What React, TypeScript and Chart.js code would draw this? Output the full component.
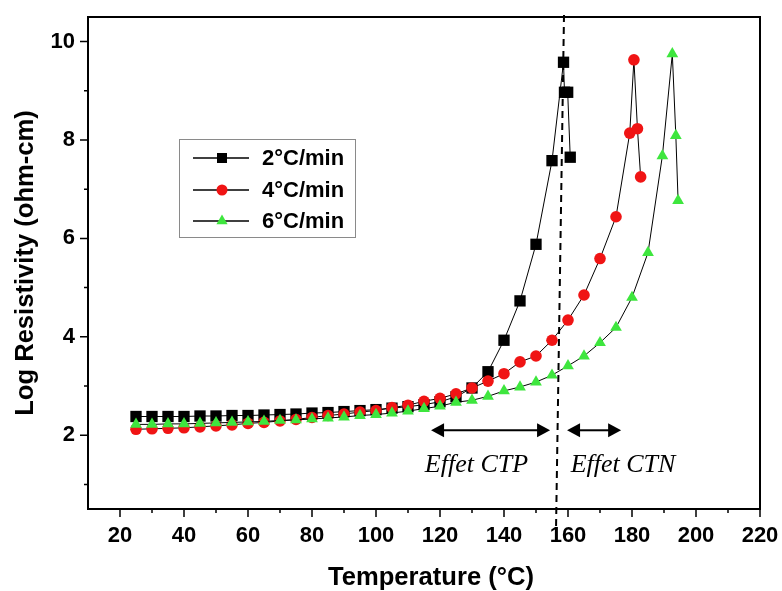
import React, { useEffect, useRef } from 'react';
import { Chart, registerables } from 'chart.js';

Chart.register(...registerables);

// ---- data ----
const seriesLabels = ['2°C/min', '4°C/min', '6°C/min'];

const temps2 = [25, 30, 35, 40, 45, 50, 55, 60, 65, 70, 75, 80, 85, 90, 95, 100, 105, 110, 115, 120, 125, 130, 135, 140, 145, 150, 155, 158.6, 158.9, 159.9, 160.7];
const resist2 = [2.38, 2.38, 2.38, 2.38, 2.39, 2.39, 2.40, 2.40, 2.41, 2.42, 2.43, 2.45, 2.46, 2.48, 2.50, 2.52, 2.55, 2.58, 2.62, 2.68, 2.78, 2.96, 3.29, 3.93, 4.73, 5.88, 7.58, 9.58, 8.97, 8.97, 7.65];

const temps4 = [25, 30, 35, 40, 45, 50, 55, 60, 65, 70, 75, 80, 85, 90, 95, 100, 105, 110, 115, 120, 125, 130, 135, 140, 145, 150, 155, 160, 165, 170, 175, 179.3, 180.6, 181.7, 182.7];
const resist4 = [2.12, 2.13, 2.14, 2.15, 2.17, 2.19, 2.21, 2.24, 2.26, 2.29, 2.32, 2.36, 2.40, 2.43, 2.47, 2.50, 2.56, 2.61, 2.69, 2.75, 2.84, 2.96, 3.10, 3.25, 3.49, 3.61, 3.93, 4.34, 4.85, 5.59, 6.44, 8.14, 9.63, 8.23, 7.25];

const temps6 = [25, 30, 35, 40, 45, 50, 55, 60, 65, 70, 75, 80, 85, 90, 95, 100, 105, 110, 115, 120, 125, 130, 135, 140, 145, 150, 155, 160, 165, 170, 175, 180, 185, 189.5, 192.6, 193.7, 194.4];
const resist6 = [2.22, 2.22, 2.23, 2.23, 2.24, 2.25, 2.26, 2.27, 2.28, 2.30, 2.31, 2.33, 2.35, 2.37, 2.40, 2.42, 2.45, 2.49, 2.54, 2.59, 2.67, 2.71, 2.79, 2.90, 2.98, 3.08, 3.22, 3.41, 3.61, 3.88, 4.19, 4.80, 5.71, 7.68, 9.75, 8.09, 6.77];

const xTickValues = [20, 30, 40, 50, 60, 70, 80, 90, 100, 110, 120, 130, 140, 150, 160, 170, 180, 190, 200, 210, 220];
const xLabelValues = [20, 40, 60, 80, 100, 120, 140, 160, 180, 200, 220];
const yTickValues = [1, 2, 3, 4, 5, 6, 7, 8, 9, 10];
const yLabelValues = [2, 4, 6, 8, 10];

const xTitle = 'Temperature (°C)';
const yTitle = 'Log Resistivity (ohm-cm)';

// annotations (data units)
const annotationTexts = ['Effet CTP', 'Effet CTN'];
const ctpRange = [117.2, 154.4];
const ctnRange = [159.7, 176.6];
const arrowLevel = 2.1;
const textLevel = 1.39;
const textCenters = [131.4, 177.2];
const dashTop = { x: 158.75, y: 10.54 };
const dashBottom = { x: 156.25, y: 0.07 };

const SANS = '"Liberation Sans", Arial, Helvetica, sans-serif';
const SERIF = '"Liberation Serif", "Times New Roman", serif';

const markerColors = ['#000000', '#f01414', '#3ee63e'];

function drawMarker(ctx: CanvasRenderingContext2D, kind: number, cx: number, cy: number) {
  ctx.fillStyle = markerColors[kind];
  ctx.beginPath();
  if (kind === 0) {
    ctx.rect(cx - 5, cy - 5, 10, 10);
  } else if (kind === 1) {
    ctx.arc(cx, cy, 5.5, 0, Math.PI * 2);
  } else {
    ctx.moveTo(cx, cy - 6.5);
    ctx.lineTo(cx + 5.6, cy + 3.3);
    ctx.lineTo(cx - 5.6, cy + 3.3);
    ctx.closePath();
  }
  ctx.fill();
}

function drawDoubleArrow(ctx: CanvasRenderingContext2D, x1: number, x2: number, y: number) {
  const head = 13;
  const half = 7;
  ctx.lineWidth = 2;
  ctx.beginPath();
  ctx.moveTo(x1 + head - 1, y);
  ctx.lineTo(x2 - head + 1, y);
  ctx.stroke();
  ctx.beginPath();
  ctx.moveTo(x1, y);
  ctx.lineTo(x1 + head, y - half);
  ctx.lineTo(x1 + head, y + half);
  ctx.closePath();
  ctx.fill();
  ctx.beginPath();
  ctx.moveTo(x2, y);
  ctx.lineTo(x2 - head, y - half);
  ctx.lineTo(x2 - head, y + half);
  ctx.closePath();
  ctx.fill();
}

const overlayPlugin = {
  id: 'overlay',
  afterDraw(chart: any) {
    const { ctx, chartArea: a } = chart;
    const x = chart.scales.x;
    const y = chart.scales.y;
    ctx.save();
    ctx.strokeStyle = '#000';
    ctx.fillStyle = '#000';

    // frame
    ctx.lineWidth = 2;
    ctx.strokeRect(a.left, a.top, a.right - a.left, a.bottom - a.top);

    // tick marks
    ctx.lineWidth = 1.5;
    ctx.beginPath();
    for (const v of xTickValues) {
      const px = x.getPixelForValue(v);
      const len = xLabelValues.includes(v) ? 8 : 4;
      ctx.moveTo(px, a.bottom);
      ctx.lineTo(px, a.bottom + len);
    }
    for (const v of yTickValues) {
      const py = y.getPixelForValue(v);
      const len = yLabelValues.includes(v) ? 8 : 4;
      ctx.moveTo(a.left, py);
      ctx.lineTo(a.left - len, py);
    }
    ctx.stroke();

    // x axis title
    ctx.font = `bold 25.6px ${SANS}`;
    ctx.textAlign = 'center';
    ctx.textBaseline = 'middle';
    ctx.fillText(xTitle, (a.left + a.right) / 2 + 7, a.bottom + 69);

    // dashed vertical line
    ctx.lineWidth = 2;
    ctx.setLineDash([7, 5]);
    ctx.beginPath();
    ctx.moveTo(x.getPixelForValue(dashTop.x), y.getPixelForValue(dashTop.y));
    ctx.lineTo(x.getPixelForValue(dashBottom.x), y.getPixelForValue(dashBottom.y));
    ctx.stroke();
    ctx.setLineDash([]);

    // arrows
    const ay = y.getPixelForValue(arrowLevel);
    drawDoubleArrow(ctx, x.getPixelForValue(ctpRange[0]), x.getPixelForValue(ctpRange[1]), ay);
    drawDoubleArrow(ctx, x.getPixelForValue(ctnRange[0]), x.getPixelForValue(ctnRange[1]), ay);

    // annotation texts
    ctx.font = `italic 26px ${SERIF}`;
    ctx.textAlign = 'center';
    ctx.textBaseline = 'middle';
    const ty = y.getPixelForValue(textLevel);
    annotationTexts.forEach((t, i) => {
      ctx.fillText(t, x.getPixelForValue(textCenters[i]), ty);
    });

    // legend
    const bx = 179, by = 139, bw = 176, bh = 98;
    ctx.lineWidth = 1;
    ctx.strokeStyle = '#8a8a8a';
    ctx.strokeRect(bx + 0.5, by + 0.5, bw, bh);
    ctx.strokeStyle = '#000';
    ctx.font = `bold 22px ${SANS}`;
    ctx.textAlign = 'left';
    ctx.textBaseline = 'middle';
    const rows = [158, 190, 221];
    seriesLabels.forEach((lab, i) => {
      const ry = rows[i];
      ctx.lineWidth = 1.5;
      ctx.beginPath();
      ctx.moveTo(193, ry);
      ctx.lineTo(249, ry);
      ctx.stroke();
      drawMarker(ctx, i, 222, ry);
      ctx.fillStyle = '#000';
      ctx.fillText(lab, 262, ry + 1);
    });

    ctx.restore();
  },
};

function makePoints(xs: number[], ys: number[]) {
  return xs.map((v, i) => ({ x: v, y: ys[i] }));
}

export default function App() {
  const canvasRef = useRef<HTMLCanvasElement | null>(null);

  useEffect(() => {
    const canvas = canvasRef.current;
    if (!canvas) return;
    const tickFont = { family: SANS, size: 22, weight: 'bold' as const };
    const titleFont = { family: SANS, size: 25.6, weight: 'bold' as const, lineHeight: 1 };
    const chart = new Chart(canvas, {
      type: 'line',
      data: {
        datasets: [
          {
            label: seriesLabels[0],
            data: makePoints(temps2, resist2),
            borderColor: '#000',
            borderWidth: 1,
            pointStyle: 'rect',
            pointRadius: 8,
            pointBackgroundColor: markerColors[0],
            pointBorderColor: markerColors[0],
            pointBorderWidth: 0,
            order: 3,
          },
          {
            label: seriesLabels[1],
            data: makePoints(temps4, resist4),
            borderColor: '#000',
            borderWidth: 1,
            pointStyle: 'circle',
            pointRadius: 5.8,
            pointBackgroundColor: markerColors[1],
            pointBorderColor: markerColors[1],
            pointBorderWidth: 0,
            order: 2,
          },
          {
            label: seriesLabels[2],
            data: makePoints(temps6, resist6),
            borderColor: '#000',
            borderWidth: 1,
            pointStyle: 'triangle',
            pointRadius: 6.8,
            pointBackgroundColor: markerColors[2],
            pointBorderColor: markerColors[2],
            pointBorderWidth: 0,
            order: 1,
          },
        ],
      },
      options: {
        responsive: false,
        animation: false,
        parsing: false as any,
        layout: { padding: { left: 0, right: 22, top: 17, bottom: 0 } },
        plugins: {
          legend: { display: false },
          tooltip: { enabled: false },
        },
        scales: {
          x: {
            type: 'linear',
            min: 10,
            max: 220,
            afterBuildTicks: (s: any) => {
              s.ticks = xTickValues.map((v) => ({ value: v }));
            },
            afterFit: (s: any) => {
              s.height = 82;
              s.paddingLeft = 0;
              s.paddingRight = 0;
            },
            grid: { display: false, drawTicks: false },
            border: { display: false },
            ticks: {
              autoSkip: false,
              maxRotation: 0,
              padding: 14,
              color: '#000',
              font: tickFont,
              callback: (v: any) => (xLabelValues.includes(Number(v)) ? String(v) : ''),
            },
            title: { display: false, text: xTitle },
          },
          y: {
            type: 'linear',
            min: 0.5,
            max: 10.5,
            afterBuildTicks: (s: any) => {
              s.ticks = yTickValues.map((v) => ({ value: v }));
            },
            afterFit: (s: any) => {
              s.width = 88;
              s.paddingTop = 0;
              s.paddingBottom = 0;
            },
            grid: { display: false, drawTicks: false },
            border: { display: false },
            ticks: {
              autoSkip: false,
              padding: 13,
              color: '#000',
              font: tickFont,
              callback: (v: any) => (yLabelValues.includes(Number(v)) ? String(v) : ''),
            },
            title: {
              display: true,
              text: yTitle,
              color: '#000',
              font: titleFont,
              padding: { top: 13, bottom: 0 },
            },
          },
        },
      },
      plugins: [overlayPlugin],
    });
    return () => chart.destroy();
  }, []);

  return (
    <div style={{ position: 'fixed', left: 0, top: 0, width: 782, height: 591, background: '#fff' }}>
      <canvas ref={canvasRef} width={782} height={591} />
    </div>
  );
}
